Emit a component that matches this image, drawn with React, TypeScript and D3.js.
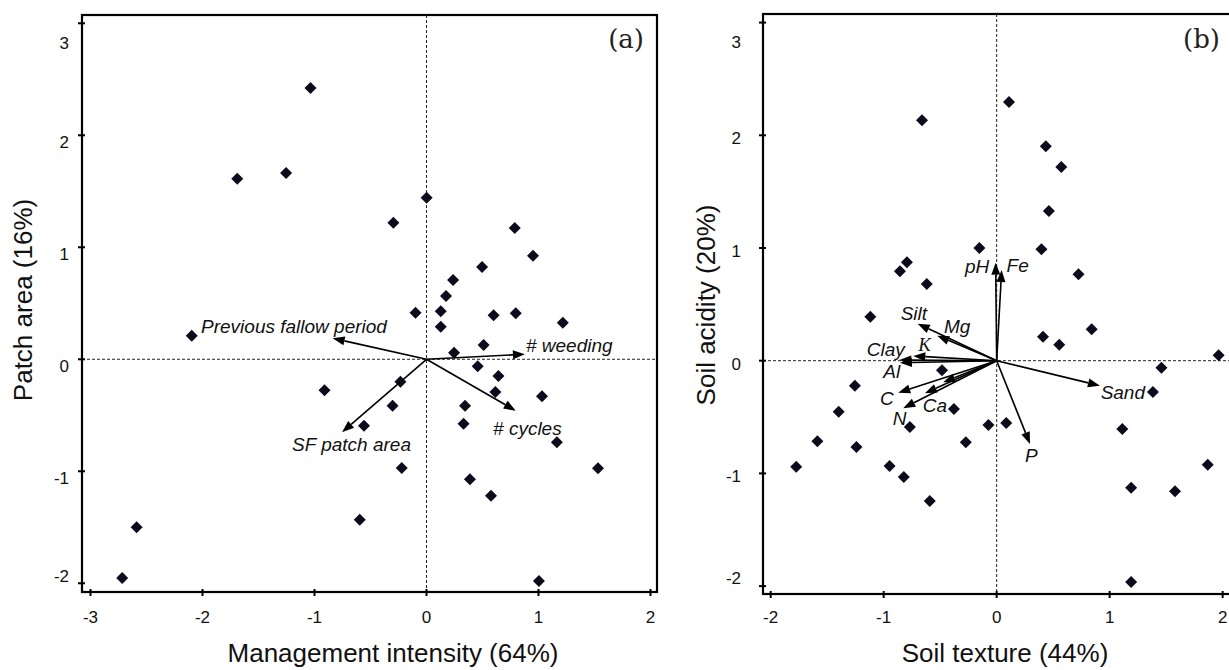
import React from "react";
import * as d3 from "d3";

const W = 1229;
const H = 670;

// ---------- Panel (a) data ----------
const aScoreX = [-1.036, -1.69, -1.254, 0.001, -0.296, 0.788, 0.951, 0.496, 0.237, 0.174, -0.098, 0.127, 0.599, 0.797, 1.217, 0.127, -2.096, 0.51, 0.246, 0.457, 0.642, -0.233, -0.911, 0.615, 1.031, -0.303, 0.344, -0.558, 0.331, 1.164, -0.221, 1.531, 0.388, 0.576, -0.596, -2.588, -2.717, 1.004];
const aScoreY = [2.422, 1.613, 1.663, 1.443, 1.22, 1.172, 0.925, 0.824, 0.708, 0.565, 0.416, 0.429, 0.393, 0.411, 0.327, 0.291, 0.211, 0.128, 0.059, -0.063, -0.149, -0.2, -0.277, -0.292, -0.33, -0.414, -0.414, -0.593, -0.575, -0.741, -0.971, -0.973, -1.071, -1.218, -1.432, -1.5, -1.953, -1.979];
const aVarNames = ["Previous fallow period", "# weeding", "# cycles", "SF patch area"];
const aVarX = [-0.838, 0.879, 0.797, -0.754];
const aVarY = [0.1875, 0.045, -0.459, -0.652];
const aLabelX = [-2.013, 0.888, 0.594, -1.201];
const aLabelY = [0.232, 0.068, -0.676, -0.816];
const aXTicks = [-3, -2, -1, 0, 1, 2];
const aYTicks = [-2, -1, 0, 1, 2, 3];

// ---------- Panel (b) data ----------
const bScoreX = [-0.661, 0.109, 0.435, 0.572, 0.462, -0.153, 0.396, -0.794, -0.856, -0.619, 0.724, -1.118, 0.41, 0.554, 0.841, 1.964, 1.458, 1.383, -0.484, -1.255, -1.398, -0.378, -0.768, -0.073, 0.085, 1.112, -1.587, -1.241, -0.273, -1.774, -0.948, -0.822, 1.868, 1.19, 1.578, -0.592, 1.19];
const bScoreY = [2.134, 2.295, 1.902, 1.719, 1.328, 1.0, 0.988, 0.873, 0.793, 0.681, 0.767, 0.39, 0.213, 0.142, 0.279, 0.048, -0.062, -0.278, -0.085, -0.222, -0.453, -0.429, -0.588, -0.571, -0.553, -0.606, -0.715, -0.766, -0.724, -0.941, -0.934, -1.032, -0.923, -1.127, -1.159, -1.245, -1.964];
const bVarNames = ["pH", "Fe", "Silt", "Mg", "K", "Clay", "Al", "C", "Ca", "", "N", "Sand", "P"];
const bVarX = [-0.009, 0.044, -0.699, -0.526, -0.738, -0.862, -0.856, -0.871, -0.635, -0.473, -0.827, 0.914, 0.295];
const bVarY = [0.87, 0.805, 0.328, 0.222, 0.042, 0.006, -0.018, -0.284, -0.289, -0.192, -0.422, -0.222, -0.739];
const bLabelX = [-0.281, 0.088, -0.85, -0.466, -0.694, -1.15, -1.004, -1.033, -0.655, 0, -0.92, 0.92, 0.25];
const bLabelY = [0.781, 0.787, 0.361, 0.243, 0.086, 0.042, -0.151, -0.393, -0.453, 0, -0.571, -0.343, -0.896];
const bXTicks = [-2, -1, 0, 1, 2];
const bYTicks = [-2, -1, 0, 1, 2, 3];

const SANS = "'Liberation Sans', Arial, Helvetica, sans-serif";
const SERIF = "'DejaVu Serif', 'Liberation Serif', serif";
const INK = "#0b0b1c";

type PanelProps = {
  left: number; right: number; top: number; bottom: number;
  xDomain: [number, number]; yDomain: [number, number];
  sx: number[]; sy: number[];
  names: string[]; vx: number[]; vy: number[]; lx: number[]; ly: number[];
  xTicks: number[]; yTicks: number[];
  yLabelEnd: number; yLabelOffset: number;
  xTitle: string; xTitleX: number;
  yTitle: string; yTitleX: number; yTitleY: number;
  tag: string; tagX: number;
  serifLabels?: string[];
};

function Panel(p: PanelProps) {
  const x = d3.scaleLinear().domain(p.xDomain).range([p.left, p.right]);
  const y = d3.scaleLinear().domain(p.yDomain).range([p.bottom, p.top]);
  const x0 = x(0);
  const y0 = y(0);
  const r = 6;
  const headLen = 12;
  const headW = 4.5;
  return (
    <g>
      {/* frame */}
      <rect x={p.left} y={p.top} width={p.right - p.left} height={p.bottom - p.top}
        fill="none" stroke="#000" strokeWidth={2.2} />
      {/* zero lines */}
      <line x1={p.left} x2={p.right} y1={y0} y2={y0} stroke="#222" strokeWidth={1} strokeDasharray="3,2" />
      <line x1={x0} x2={x0} y1={p.top} y2={p.bottom} stroke="#222" strokeWidth={1} strokeDasharray="3,2" />
      {/* y ticks */}
      {p.yTicks.map((t) => {
        const ty = y(t);
        const ly = Math.max(p.top + 28, Math.min(p.bottom - 16, ty + p.yLabelOffset));
        return (
          <g key={"yt" + t}>
            <line x1={p.left - 4} x2={p.left + 3} y1={ty} y2={ty} stroke="#000" strokeWidth={2} />
            <text x={p.yLabelEnd} y={ly + 6} textAnchor="end" fontFamily={SANS} fontSize={17} fill="#111">{t}</text>
          </g>
        );
      })}
      {/* x ticks */}
      {p.xTicks.map((t) => {
        const tx = x(t);
        return (
          <g key={"xt" + t}>
            <line x1={tx} x2={tx} y1={p.bottom - 3} y2={p.bottom + 4} stroke="#000" strokeWidth={2} />
            <text x={tx} y={623} textAnchor="middle" fontFamily={SANS} fontSize={17} fill="#111">{t}</text>
          </g>
        );
      })}
      {/* scores */}
      {p.sx.map((v, i) => {
        const cx = x(v);
        const cy = y(p.sy[i]);
        return (
          <path key={"pt" + i}
            d={`M${cx},${cy - r}L${cx + r},${cy}L${cx},${cy + r}L${cx - r},${cy}Z`}
            fill={INK} />
        );
      })}
      {/* arrows */}
      {p.vx.map((v, i) => {
        const tx = x(v);
        const ty = y(p.vy[i]);
        const ang = Math.atan2(ty - y0, tx - x0);
        const bx = tx - headLen * Math.cos(ang);
        const by = ty - headLen * Math.sin(ang);
        const nx = -Math.sin(ang) * headW;
        const ny = Math.cos(ang) * headW;
        return (
          <g key={"ar" + i}>
            <line x1={x0} y1={y0} x2={bx} y2={by} stroke="#000" strokeWidth={1.6} />
            <path d={`M${tx},${ty}L${bx + nx},${by + ny}L${bx - nx},${by - ny}Z`} fill="#000" />
          </g>
        );
      })}
      {/* arrow labels */}
      {p.names.map((n, i) =>
        n ? (
          <text key={"lb" + i} x={x(p.lx[i])} y={y(p.ly[i])}
            fontFamily={p.serifLabels && p.serifLabels.includes(n) ? "'Liberation Serif', serif" : SANS}
            fontStyle="italic" fontSize={19} fill="#111">{n}</text>
        ) : null
      )}
      {/* tag */}
      <text x={p.tagX} y={48} textAnchor="end" fontFamily={SERIF} fontSize={26} fill="#222">{p.tag}</text>
      {/* axis titles */}
      <text x={p.xTitleX} y={662} textAnchor="middle" fontFamily={SANS} fontSize={26} fill="#111">{p.xTitle}</text>
      <text transform={`translate(${p.yTitleX},${p.yTitleY}) rotate(-90)`} textAnchor="middle"
        dy="0.35em" fontFamily={SANS} fontSize={26} fill="#111">{p.yTitle}</text>
    </g>
  );
}

export default function App() {
  return (
    <svg width={W} height={H} viewBox={`0 0 ${W} ${H}`}
      style={{ position: "absolute", left: 0, top: 0, background: "#fff", display: "block" }}>
      <rect x={0} y={0} width={W} height={H} fill="#fff" />
      <Panel
        left={82} right={657} top={15} bottom={592}
        xDomain={[-3.076, 2.058]} yDomain={[-2.078, 3.074]}
        sx={aScoreX} sy={aScoreY}
        names={aVarNames} vx={aVarX} vy={aVarY} lx={aLabelX} ly={aLabelY}
        xTicks={aXTicks} yTicks={aYTicks}
        yLabelEnd={69} yLabelOffset={7}
        xTitle="Management intensity (64%)" xTitleX={393}
        yTitle="Patch area (16%)" yTitleX={23} yTitleY={300}
        tag="(a)" tagX={644}
      />
      <Panel
        left={763} right={1236} top={14} bottom={594}
        xDomain={[-2.068, 2.118]} yDomain={[-2.07, 3.076]}
        sx={bScoreX} sy={bScoreY}
        names={bVarNames} vx={bVarX} vy={bVarY} lx={bLabelX} ly={bLabelY}
        xTicks={bXTicks} yTicks={bYTicks}
        yLabelEnd={741} yLabelOffset={3}
        xTitle="Soil texture (44%)" xTitleX={1005}
        yTitle="Soil acidity (20%)" yTitleX={706} yTitleY={305}
        tag="(b)" tagX={1220}
        serifLabels={["K"]}
      />
    </svg>
  );
}
